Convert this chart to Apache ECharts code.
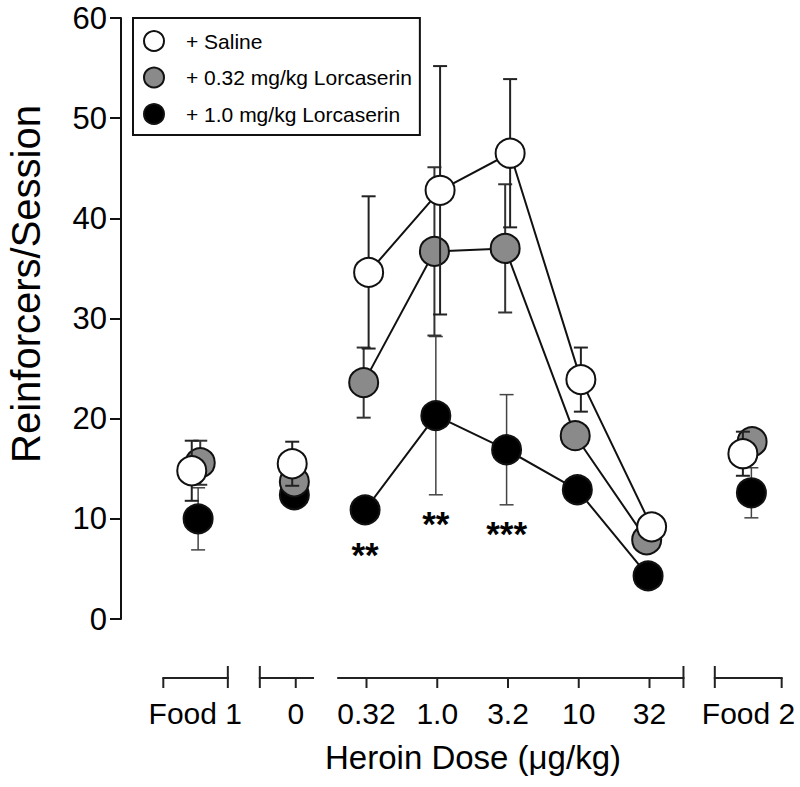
<!DOCTYPE html>
<html><head><meta charset="utf-8">
<script src="https://cdn.jsdelivr.net/npm/echarts@6/dist/echarts.min.js"></script>
<style>html,body{margin:0;padding:0;background:#fff}#c{width:800px;height:787px}</style>
</head><body><div id="c"></div>
<script>
// ---- data ----
const groupLabels = ['Food 1','0','0.32','1.0','3.2','10','32','Food 2'];
const groupX = [-2.42, -1, 0, 1, 2, 3, 4, 5.4];   // axis position of each group
const yTicks = [0, 10, 20, 30, 40, 50, 60];

const salineMean = [14.8, 15.5, 34.6, 42.8, 46.5, 23.9, 9.2, 16.5];
const salineSem  = [3.0, 2.2, 7.6, 12.4, 7.4, 3.2, 1.0, 2.2];
const salineDx   = [-0.05, -0.05, 0.03, 0.04, 0.03, 0.03, 0.03, -0.08];

const lorc032Mean = [15.6, 13.7, 23.6, 36.7, 37.0, 18.3, 7.9, 17.7];
const lorc032Sem  = [2.2, 1.0, 3.5, 8.4, 6.4, 1.0, 0.8, 0.9];
const lorc032Dx   = [0.07, -0.02, -0.04, -0.04, -0.04, -0.05, -0.04, 0.05];

const lorc10Mean = [10.0, 12.4, 10.9, 20.3, 16.9, 12.9, 4.3, 12.6];
const lorc10Sem  = [3.1, 1.0, 1.2, 7.9, 5.5, 1.2, 0.8, 2.5];
const lorc10Dx   = [0.04, -0.02, -0.02, -0.02, -0.02, -0.02, -0.02, 0.04];

const doseIdx = [2, 3, 4, 5, 6];          // points joined by lines
const starIdx = [2, 3, 4];                 // groups with significance marks
const starLabels = ['**', '**', '***'];
const starY = [6.9, 10.0, 8.95];

// axis bracket segments (axis units)
const bracketSegments = [[-2.872, -1.96], [-1.508, -0.756], [-0.40, 4.48], [4.923, 5.868]];
const bracketCaps = [-1.96, -1.508, 4.48, 4.923];
const bracketTicks = [-2.872, -1, 0, 1, 2, 3, 4, 5.868];

// ---- chart ----
const FONT = "'Liberation Sans', Arial, Helvetica, sans-serif";
const chart = echarts.init(document.getElementById('c'), null, {renderer: 'svg'});

function pts(mean, dx, idx) {
  return (idx || mean.map((_, i) => i)).map(i => [groupX[i] + dx[i], mean[i]]);
}

function errSeries(id, mean, sem, dx, color, width, z) {
  return {
    type: 'custom', name: id, z: z, clip: false, silent: true,
    data: mean.map((m, i) => [groupX[i] + dx[i], m, sem[i]]),
    encode: {x: 0, y: 1},
    renderItem: (p, api) => {
      const x = api.value(0), y = api.value(1), e = api.value(2);
      const t = api.coord([x, y + e]), b = api.coord([x, y - e]);
      const hw = 7, st = {stroke: color, lineWidth: width};
      return {type: 'group', children: [
        {type: 'line', shape: {x1: t[0], y1: t[1], x2: b[0], y2: b[1]}, style: st},
        {type: 'line', shape: {x1: t[0] - hw, y1: t[1], x2: t[0] + hw, y2: t[1]}, style: st},
        {type: 'line', shape: {x1: b[0] - hw, y1: b[1], x2: b[0] + hw, y2: b[1]}, style: st}
      ]};
    }
  };
}

function lineSeries(id, mean, dx, z) {
  return {
    type: 'line', name: id, z: z, silent: true, symbol: 'none', showSymbol: false,
    data: pts(mean, dx, doseIdx),
    lineStyle: {color: '#111', width: 2}
  };
}

function dotSeries(name, mean, dx, fill, z) {
  return {
    type: 'scatter', name: name, z: z, symbol: 'circle', symbolSize: 29,
    data: pts(mean, dx),
    itemStyle: {color: fill, borderColor: '#111', borderWidth: 2, opacity: 1},
    emphasis: {disabled: true}
  };
}

const names = ['+ Saline', '+ 0.32 mg/kg Lorcaserin', '+ 1.0 mg/kg Lorcaserin'];

const option = {
  backgroundColor: '#fff',
  animation: false,
  grid: {left: 121, right: 9, top: 18, bottom: 168, outerBoundsMode: 'none', containLabel: false},
  legend: {
    orient: 'vertical', left: 133, top: 18,
    data: names, selectedMode: false,
    itemWidth: 20, itemHeight: 20, itemGap: 14.5,
    padding: [12, 8, 10, 10],
    borderColor: '#111', borderWidth: 2, backgroundColor: '#fff',
    textStyle: {fontSize: 21, fontFamily: FONT, color: '#000', padding: [0, 0, 0, 17]}
  },
  xAxis: {
    type: 'value', min: -3.47, max: 6,
    axisLine: {show: false}, axisTick: {show: false}, splitLine: {show: false},
    axisLabel: {
      show: true, customValues: groupX, margin: 79, fontSize: 30, fontFamily: FONT, color: '#000',
      formatter: v => {
        let bi = 0, bd = Infinity;
        groupX.forEach((g, i) => { const d = Math.abs(g - v); if (d < bd) { bd = d; bi = i; } });
        return groupLabels[bi];
      }
    }
  },
  yAxis: {
    type: 'value', min: 0, max: 60, interval: 10,
    axisLine: {show: true, onZero: false, lineStyle: {color: '#111', width: 2}},
    axisTick: {show: true, length: 11, lineStyle: {color: '#111', width: 2}},
    axisLabel: {fontSize: 31, fontFamily: FONT, color: '#000', margin: 14,
      customValues: yTicks},
    splitLine: {show: false}
  },
  graphic: [{
    type: 'text', x: 473, y: 757, silent: true,
    style: {text: 'Heroin Dose (μg/kg)', fontSize: 33, fontFamily: FONT, fill: '#000',
      textAlign: 'center', textVerticalAlign: 'middle'}
  }, {
    type: 'text', x: 26, y: 284, rotation: Math.PI / 2, silent: true,
    style: {text: 'Reinforcers/Session', fontSize: 40, fontFamily: FONT, fill: '#000',
      textAlign: 'center', textVerticalAlign: 'middle'}
  }],
  series: [
    {
      type: 'custom', name: 'axisBrackets', z: 1, clip: false, silent: true,
      data: [[0, 0]],
      renderItem: (p, api) => {
        const y0 = api.coord([0, 0])[1] + 59;
        const st = {stroke: '#222', lineWidth: 2};
        const ch = [];
        bracketSegments.forEach(s => {
          const a = api.coord([s[0], 0])[0], b = api.coord([s[1], 0])[0];
          ch.push({type: 'line', shape: {x1: a - 1, y1: y0, x2: b + 1, y2: y0}, style: st});
        });
        bracketCaps.forEach(c => {
          const a = api.coord([c, 0])[0];
          ch.push({type: 'line', shape: {x1: a, y1: y0 - 12, x2: a, y2: y0 + 10}, style: st});
        });
        bracketTicks.forEach(c => {
          const a = api.coord([c, 0])[0];
          ch.push({type: 'line', shape: {x1: a, y1: y0, x2: a, y2: y0 + 10}, style: st});
        });
        return {type: 'group', children: ch};
      }
    },
    errSeries('err10', lorc10Mean, lorc10Sem, lorc10Dx, '#444', 1.5, 2),
    lineSeries('line10', lorc10Mean, lorc10Dx, 3),
    dotSeries(names[2], lorc10Mean, lorc10Dx, '#000', 4),
    errSeries('err032', lorc032Mean, lorc032Sem, lorc032Dx, '#333', 2, 5),
    lineSeries('line032', lorc032Mean, lorc032Dx, 6),
    dotSeries(names[1], lorc032Mean, lorc032Dx, '#8a8a8a', 7),
    errSeries('errSal', salineMean, salineSem, salineDx, '#222', 2, 8),
    lineSeries('lineSal', salineMean, salineDx, 9),
    dotSeries(names[0], salineMean, salineDx, '#fff', 10),
    {
      type: 'custom', name: 'stars', z: 11, clip: false, silent: true,
      data: starIdx.map((gi, k) => [groupX[gi] + lorc10Dx[gi], starY[k], k]),
      encode: {x: 0, y: 1},
      renderItem: (p, api) => {
        const c = api.coord([api.value(0), api.value(1)]);
        const fs = 35;
        return {type: 'text', x: c[0], y: c[1] + 0.12 * fs,
          style: {text: starLabels[api.value(2)], fontSize: fs, fontWeight: 'bold', fontFamily: FONT,
            fill: '#000', textAlign: 'center', textVerticalAlign: 'middle'}};
      }
    }
  ]
};
chart.setOption(option);
</script>
</body></html>
